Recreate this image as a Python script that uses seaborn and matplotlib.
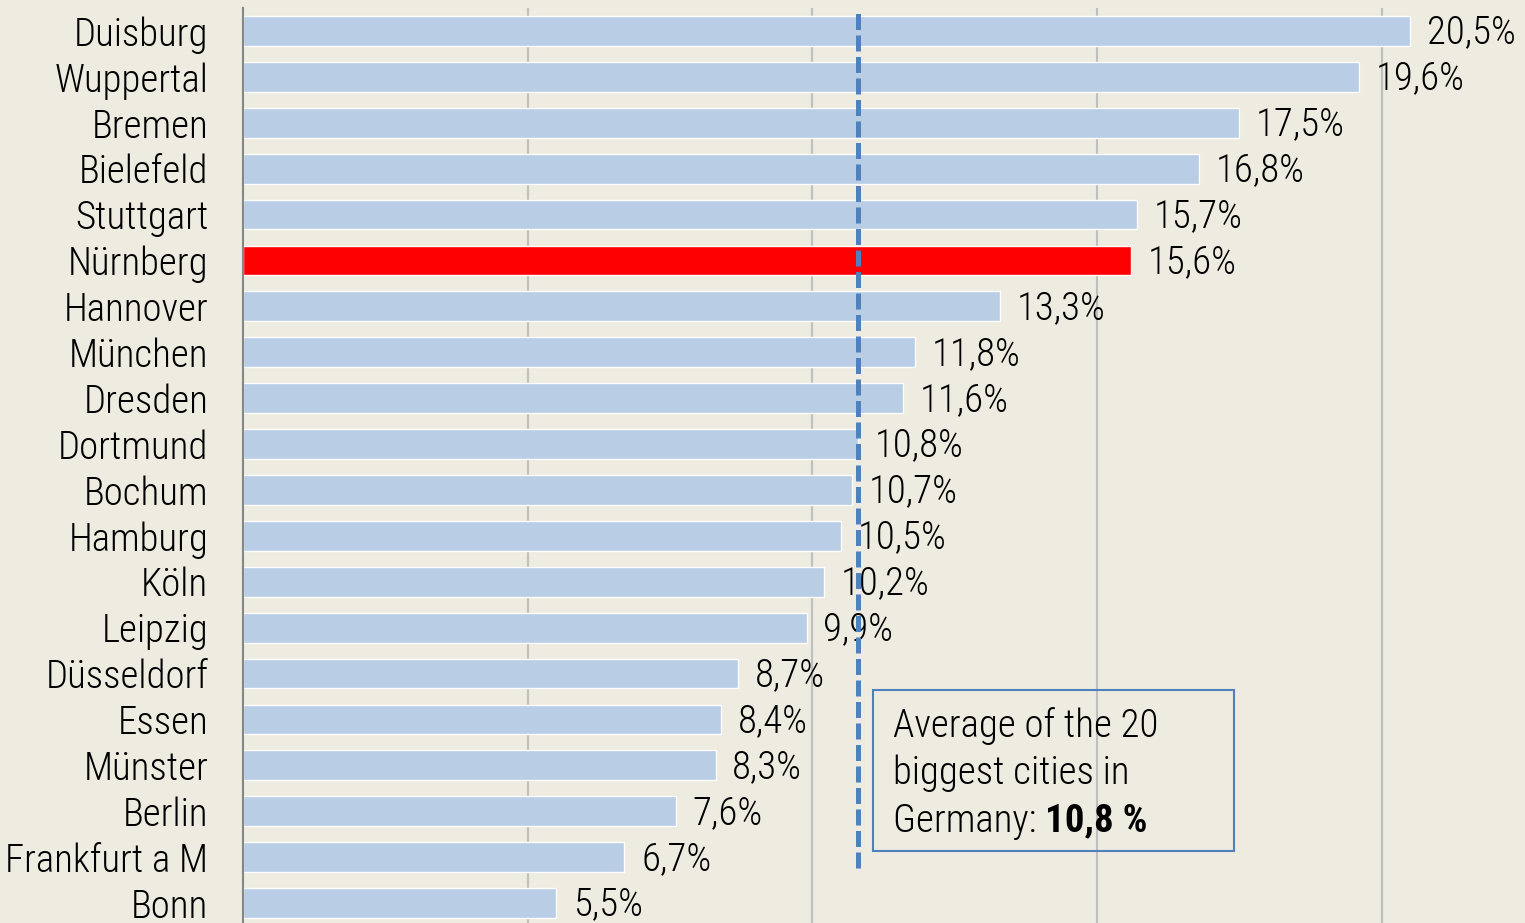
import seaborn as sns
import matplotlib.pyplot as plt
import matplotlib.ticker as mticker
from matplotlib.patches import Rectangle
from matplotlib import font_manager

cities = ["Duisburg", "Wuppertal", "Bremen", "Bielefeld", "Stuttgart", "Nürnberg",
          "Hannover", "München", "Dresden", "Dortmund", "Bochum", "Hamburg", "Köln",
          "Leipzig", "Düsseldorf", "Essen", "Münster", "Berlin", "Frankfurt a M", "Bonn"]
values = [20.5, 19.6, 17.5, 16.8, 15.7, 15.6, 13.3, 11.8, 11.6, 10.8, 10.7, 10.5, 10.2,
          9.9, 8.7, 8.4, 8.3, 7.6, 6.7, 5.5]
highlight = "Nürnberg"
average = 10.8
note_lines = ["Average of the 20", "biggest cities in", "Germany: "]
note_bold = "10,8 %"

bg = "#EEEBE0"
bar_color = "#B9CDE5"
line_blue = "#4F81BD"

names = {f.name for f in font_manager.fontManager.ttflist}
family = [f for f in ["Roboto Condensed", "Archivo Narrow", "Liberation Sans", "DejaVu Sans"]
          if f in names]

sns.set_style("white")
plt.rcParams["font.family"] = family
plt.rcParams["font.weight"] = "light"
plt.rcParams["text.color"] = "black"
fs = 28

fig = plt.figure(figsize=(15.25, 9.23), dpi=100, facecolor=bg)
ax = fig.add_axes([243 / 1525, -3 / 923, 1 - 243 / 1525, 918 / 923])
ax.set_facecolor(bg)

palette = {c: ("#FF0000" if c == highlight else bar_color) for c in cities}
sns.barplot(x=values, y=cities, hue=cities, palette=palette, legend=False,
            width=0.65, orient="h", ax=ax, saturation=1, zorder=2)

ax.set_xlim(0, 1282 / 56.93)
ax.set_ylim(len(cities) - 0.5, -0.5)

# vertical gridlines
ax.xaxis.set_major_locator(mticker.FixedLocator([5, 10, 15, 20]))
ax.tick_params(axis="x", length=0, labelbottom=False)
ax.grid(axis="x", color="#BFBFBF", linewidth=1.5, zorder=0)
ax.grid(axis="y", visible=False)
ax.set_axisbelow(True)

# category labels and boundary ticks
ax.tick_params(axis="y", which="major", length=0, pad=25, labelsize=fs, labelcolor="black")
ax.yaxis.set_minor_locator(mticker.FixedLocator([i - 0.5 for i in range(len(cities) + 1)]))
ax.tick_params(axis="y", which="minor", length=7, width=1.5, color="#868686", direction="out")

for s in ["top", "right", "bottom"]:
    ax.spines[s].set_visible(False)
ax.spines["left"].set_color("#868686")
ax.spines["left"].set_linewidth(1.5)

for i, v in enumerate(values):
    ax.annotate(f"{v:.1f}%".replace(".", ","), xy=(v, i + 0.04), xytext=(12, 0),
                textcoords="offset points", va="center", ha="left", fontsize=fs, zorder=3)

ax.axvline(average, ymin=0.063, ymax=0.998, color=line_blue, linewidth=3.6,
           linestyle=(0, (3.2, 1.1)), zorder=4)

ax.add_patch(Rectangle((11.07, 14.36), 17.41 - 11.07, 17.86 - 14.36, fill=False,
                       edgecolor=line_blue, linewidth=1.5, zorder=5))
ys = [15.14, 16.17, 17.21]
t = None
for y, line in zip(ys, note_lines):
    t = ax.text(11.42, y, line, fontsize=fs, va="center", ha="left", zorder=6)
ax.annotate(note_bold, xy=(1, 0), xycoords=t, va="bottom", ha="left",
            fontsize=fs, fontweight="bold", zorder=6)

ax.set_xlabel("")
ax.set_ylabel("")
fig.savefig("out.png", dpi=100, facecolor=bg)
